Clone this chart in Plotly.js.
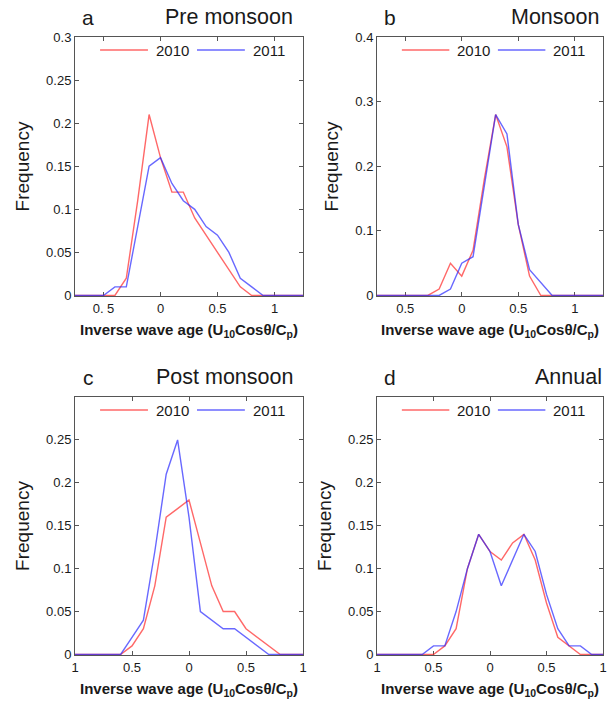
<!DOCTYPE html>
<html>
<head>
<meta charset="utf-8">
<script src="https://cdn.plot.ly/plotly-3.0.1.min.js"></script>
<style>
  html, body { margin: 0; padding: 0; background: #fff; }
  #chart { width: 610px; height: 704px; }
</style>
</head>
<body>
<div id="chart"></div>
<script>
// Bin centres of inverse wave age (U10 cos(theta) / Cp)
const bins = [-1.0, -0.9, -0.8, -0.7, -0.6, -0.5, -0.4, -0.3, -0.2, -0.1, 0.0, 0.1,
              0.2, 0.3, 0.4, 0.5, 0.6, 0.7, 0.8, 0.9, 1.0, 1.1, 1.2, 1.3];

// Frequency distributions per season
const preMonsoon2010  = [0, 0, 0, 0, 0, 0, 0, 0.02, 0.11, 0.21, 0.16, 0.12, 0.12, 0.09, 0.07, 0.05, 0.03, 0.01, 0, 0, 0, 0, 0, 0];
const preMonsoon2011  = [0, 0, 0, 0, 0, 0, 0.01, 0.01, 0.08, 0.15, 0.16, 0.13, 0.11, 0.10, 0.08, 0.07, 0.05, 0.02, 0.01, 0, 0, 0, 0, 0];
const monsoon2010     = [0, 0, 0, 0, 0, 0, 0, 0, 0.01, 0.05, 0.03, 0.07, 0.18, 0.28, 0.23, 0.11, 0.03, 0, 0, 0, 0, 0, 0, 0];
const monsoon2011     = [0, 0, 0, 0, 0, 0, 0, 0, 0, 0.01, 0.05, 0.06, 0.17, 0.28, 0.25, 0.11, 0.04, 0.02, 0, 0, 0, 0, 0, 0];
const postMonsoon2010 = [0, 0, 0, 0, 0, 0.01, 0.03, 0.08, 0.16, 0.17, 0.18, 0.13, 0.08, 0.05, 0.05, 0.03, 0.02, 0.01, 0, 0, 0, 0, 0, 0];
const postMonsoon2011 = [0, 0, 0, 0, 0, 0.02, 0.04, 0.12, 0.21, 0.25, 0.16, 0.05, 0.04, 0.03, 0.03, 0.02, 0.01, 0, 0, 0, 0, 0, 0, 0];
const annual2010      = [0, 0, 0, 0, 0, 0, 0.01, 0.03, 0.10, 0.14, 0.12, 0.11, 0.13, 0.14, 0.11, 0.06, 0.02, 0.01, 0, 0, 0, 0, 0, 0];
const annual2011      = [0, 0, 0, 0, 0, 0.01, 0.01, 0.05, 0.10, 0.14, 0.12, 0.08, 0.11, 0.14, 0.12, 0.07, 0.03, 0.01, 0.01, 0, 0, 0, 0, 0];

// Panel letters, season names and axis ticks
const panelLetters = ['a', 'b', 'c', 'd'];
const seasonNames  = ['Pre monsoon', 'Monsoon', 'Post monsoon', 'Annual'];
const yearNames    = ['2010', '2011'];

const xTickValsAB  = [-0.5, 0, 0.5, 1];
const xTickTextA   = ['0. 5', '0', '0.5', '1'];
const xTickTextB   = ['0.5', '0', '0.5', '1'];
const xTickValsCD  = [-1, -0.5, 0, 0.5, 1];
const xTickTextCD  = ['1', '0.5', '0', '0.5', '1'];

const yTickVals03  = [0, 0.05, 0.1, 0.15, 0.2, 0.25, 0.3];
const yTickText03  = ['0', '0.05', '0.1', '0.15', '0.2', '0.25', '0.3'];
const yTickVals04  = [0, 0.1, 0.2, 0.3, 0.4];
const yTickText04  = ['0', '0.1', '0.2', '0.3', '0.4'];
const yTickValsCD  = [0, 0.05, 0.1, 0.15, 0.2, 0.25];
const yTickTextCD  = ['0', '0.05', '0.1', '0.15', '0.2', '0.25'];

const series = [
  [preMonsoon2010, preMonsoon2011],
  [monsoon2010, monsoon2011],
  [postMonsoon2010, postMonsoon2011],
  [annual2010, annual2011]
];

const W = 610, H = 704;
const RED  = 'rgba(255, 40, 40, 0.7)';
const BLUE = 'rgba(40, 40, 255, 0.7)';
const FONT = 'Liberation Sans, Arial, Helvetica, sans-serif';
const TXT  = '#1a1a1a';
const FRAME = '#555555';

// Pixel boxes of the four plotting areas: [left, right, top, bottom]
const boxes = [
  [75, 303, 37, 296],
  [377, 603, 37, 296],
  [75, 303, 397, 655],
  [377, 603, 397, 655]
];

// The y ranges start a hair below zero so the zero-frequency runs sit on the frame
const xCfg = [
  {range: [-0.75, 1.25], vals: xTickValsAB, text: xTickTextA},
  {range: [-0.75, 1.25], vals: xTickValsAB, text: xTickTextB},
  {range: [-1, 1], vals: xTickValsCD, text: xTickTextCD},
  {range: [-1, 1], vals: xTickValsCD, text: xTickTextCD}
];
const yCfg = [
  {range: [-0.0006, 0.3], vals: yTickVals03, text: yTickText03},
  {range: [-0.0008, 0.4], vals: yTickVals04, text: yTickText04},
  {range: [-0.0006, 0.3], vals: yTickValsCD, text: yTickTextCD},
  {range: [-0.0006, 0.3], vals: yTickValsCD, text: yTickTextCD}
];

const traces = [];
const layout = {
  width: W, height: H,
  margin: {l: 0, r: 0, t: 0, b: 0},
  paper_bgcolor: '#ffffff',
  plot_bgcolor: '#ffffff',
  showlegend: false,
  font: {family: FONT, color: TXT, size: 13},
  shapes: [],
  annotations: []
};

const colors = [RED, BLUE];
const titleShift = [0, 6, 0, 9];

boxes.forEach((b, i) => {
  const n = i === 0 ? '' : String(i + 1);
  const xa = 'xaxis' + n, ya = 'yaxis' + n;
  const xr = 'x' + n, yr = 'y' + n;

  series[i].forEach((vals, k) => {
    traces.push({
      type: 'scatter', mode: 'lines',
      x: bins, y: vals,
      xaxis: xr, yaxis: yr,
      name: yearNames[k],
      line: {color: colors[k], width: 1.4},
      hoverinfo: 'x+y+name'
    });
  });

  const common = {
    showgrid: false, zeroline: false,
    showline: true, linecolor: FRAME, linewidth: 1,
    mirror: 'ticks', ticks: 'inside', ticklen: 4, tickwidth: 1, tickcolor: FRAME,
    tickfont: {family: FONT, size: 13, color: TXT},
    layer: 'below traces',
    fixedrange: true
  };

  layout[xa] = Object.assign({}, common, {
    domain: [b[0] / W, b[1] / W],
    anchor: yr,
    range: xCfg[i].range,
    tickmode: 'array', tickvals: xCfg[i].vals, ticktext: xCfg[i].text,
    title: {
      text: 'Inverse wave age (U<sub>10</sub>Cosθ/C<sub>p</sub>)',
      font: {family: FONT, size: 15, color: TXT, weight: 'bold'},
      standoff: 9
    }
  });
  layout[ya] = Object.assign({}, common, {
    domain: [1 - b[3] / H, 1 - b[2] / H],
    anchor: xr,
    range: yCfg[i].range,
    tickmode: 'array', tickvals: yCfg[i].vals, ticktext: yCfg[i].text,
    title: {
      text: 'Frequency',
      font: {family: FONT, size: 19, color: TXT},
      standoff: 11
    }
  });

  // Panel letter and season name above each box
  layout.annotations.push({
    xref: 'paper', yref: 'paper',
    x: (b[0] + 13) / W, y: 1 - (b[2] - 20) / H,
    text: panelLetters[i], showarrow: false,
    xanchor: 'center', yanchor: 'middle',
    font: {family: FONT, size: 21, color: TXT}
  });
  layout.annotations.push({
    xref: 'paper', yref: 'paper',
    x: (b[1] - 8 + titleShift[i]) / W, y: 1 - (b[2] - 20) / H,
    text: seasonNames[i], showarrow: false,
    xanchor: 'right', yanchor: 'middle',
    font: {family: FONT, size: 21.5, color: TXT}
  });

  // In-box key for the two years
  const xd = xr + ' domain', yd = yr + ' domain';
  const keyY = 1 - 13 / (b[3] - b[2]);
  const segs = [[0.11, 0.32, 0.345], [0.535, 0.745, 0.77]];
  segs.forEach((s, k) => {
    layout.shapes.push({
      type: 'line', xref: xd, yref: yd,
      x0: s[0], x1: s[1], y0: keyY, y1: keyY,
      line: {color: colors[k], width: 1.6}
    });
    layout.annotations.push({
      xref: xd, yref: yd, x: s[2], y: keyY,
      text: yearNames[k], showarrow: false,
      xanchor: 'left', yanchor: 'middle',
      font: {family: FONT, size: 15, color: TXT}
    });
  });
});

Plotly.newPlot('chart', traces, layout, {displayModeBar: false, staticPlot: true});
</script>
</body>
</html>
